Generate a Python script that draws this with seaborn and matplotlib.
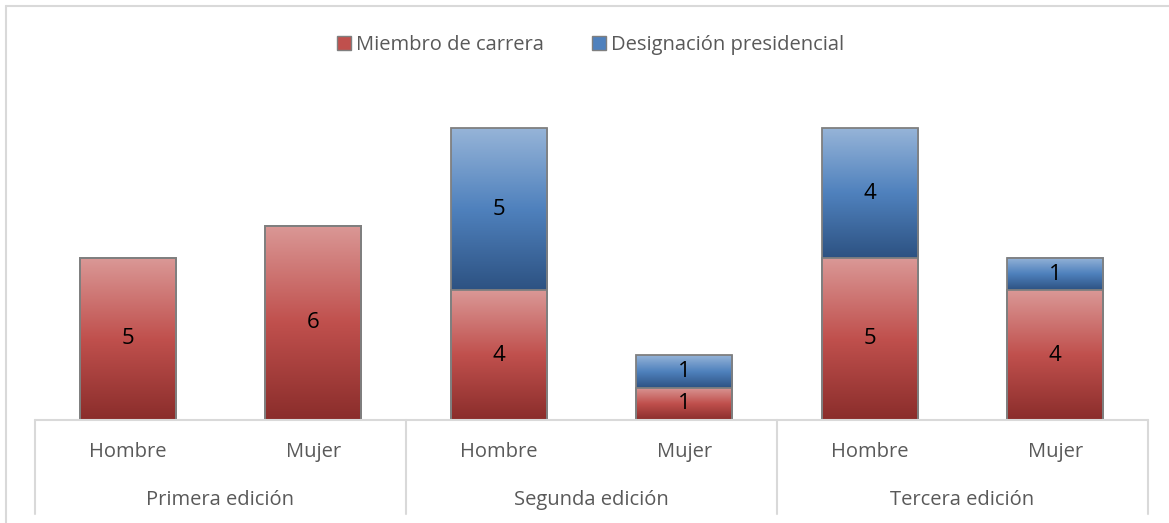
import matplotlib
matplotlib.use("Agg")
import matplotlib.pyplot as plt
import seaborn as sns
import numpy as np
import pandas as pd
from matplotlib.colors import LinearSegmentedColormap
from matplotlib.patches import Patch
from matplotlib.lines import Line2D

# --- data
groups = ["Primera edición", "Segunda edición", "Tercera edición"]
sexes = ["Hombre", "Mujer"]
carrera = [5, 6, 4, 1, 5, 4]
designacion = [0, 0, 5, 1, 4, 1]
series_names = ["Miembro de carrera", "Designación presidencial"]

sns.set_style("white")
plt.rcParams["font.family"] = ["Open Sans", "DejaVu Sans"]

cats = [f"{g}|{s}" for g in groups for s in sexes]
df = pd.DataFrame({"cat": cats, "carrera": carrera, "designacion": designacion})
df["total"] = df["carrera"] + df["designacion"]

red_cmap = LinearSegmentedColormap.from_list("red", ["#8A2D2B", "#C0504D", "#DA9896"])
blue_cmap = LinearSegmentedColormap.from_list("blue", ["#2D5282", "#4F81BD", "#96B4D8"])
edge = "#7F7F7F"

W, H = 1169, 523
fig = plt.figure(figsize=(W / 100, H / 100), dpi=100)
ax = fig.add_axes([35 / W, (H - 420) / H, (1148 - 35) / W, (420 - 96) / H])

# totals first (blue outline), then red on top
sns.barplot(data=df, x="cat", y="total", ax=ax, width=0.52, facecolor="none",
            edgecolor=edge, linewidth=1.3, zorder=3)
n_blue = len(ax.patches)
sns.barplot(data=df, x="cat", y="carrera", ax=ax, width=0.52, facecolor="none",
            edgecolor=edge, linewidth=1.3, zorder=3)

grad = np.linspace(0, 1, 256).reshape(-1, 1)
blue_patches = ax.patches[:n_blue]
red_patches = ax.patches[n_blue:]
for i, (bp, rp) in enumerate(zip(blue_patches, red_patches)):
    x0, w = rp.get_x(), rp.get_width()
    c, d = df["carrera"][i], df["designacion"][i]
    if c > 0:
        ax.imshow(grad, cmap=red_cmap, aspect="auto", origin="lower",
                  extent=[x0, x0 + w, 0, c], zorder=2)
        ax.text(x0 + w / 2, c / 2, str(c), ha="center", va="center",
                fontsize=16, color="black", zorder=4)
    if d > 0:
        ax.imshow(grad, cmap=blue_cmap, aspect="auto", origin="lower",
                  extent=[x0, x0 + w, c, c + d], zorder=2)
        ax.text(x0 + w / 2, c + d / 2, str(d), ha="center", va="center",
                fontsize=16, color="black", zorder=4)

ax.set_xlim(-0.5, len(cats) - 0.5)
ax.set_ylim(0, 10)
ax.set_xticks([])
ax.set_yticks([])
ax.set_xlabel("")
ax.set_ylabel("")
for s in ax.spines.values():
    s.set_visible(False)

# multi-level category axis
line_kw = dict(color="#D9D9D9", linewidth=1.5, transform=fig.transFigure)
y_axis = (H - 420) / H
fig.add_artist(Line2D([35 / W, 1148 / W], [y_axis, y_axis], **line_kw))
for k in range(len(groups) + 1):
    xs = (35 + k * (1148 - 35) / len(groups)) / W
    fig.add_artist(Line2D([xs, xs], [y_axis, (H - 514) / H], **line_kw))

for i, cat in enumerate(cats):
    ax.text(i, -1.0, cat.split("|")[1], ha="center", va="center",
            fontsize=14.5, color="#595959")
for j, g in enumerate(groups):
    ax.text(2 * j + 0.5, -2.48, g, ha="center", va="center",
            fontsize=14.5, color="#595959")

# outer chart border (left and top)
fig.add_artist(Line2D([6 / W, 6 / W], [0, (H - 6) / H], **line_kw))
fig.add_artist(Line2D([6 / W, 1], [(H - 6) / H, (H - 6) / H], **line_kw))

handles = [Patch(facecolor="#C0504D", edgecolor=edge),
           Patch(facecolor="#4F81BD", edgecolor=edge)]
fig.legend(handles, series_names, loc="center", bbox_to_anchor=(0.505, (H - 45) / H),
           ncol=2, frameon=False, fontsize=14.5, handlelength=0.7, handleheight=0.7,
           handletextpad=0.25, columnspacing=2.4, labelcolor="#595959")

fig.savefig("out.png", dpi=100)
